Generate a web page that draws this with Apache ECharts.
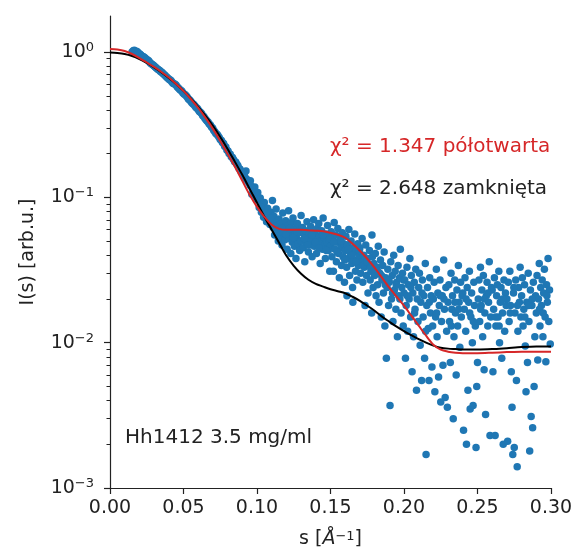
<!DOCTYPE html>
<html>
<head>
<meta charset="utf-8">
<script src="https://cdn.jsdelivr.net/npm/echarts@6/dist/echarts.min.js"></script>
<style>html,body{margin:0;padding:0;background:#fff}#c{width:576px;height:554px}</style>
</head>
<body>
<div id="c"></div>
<script>
// ---- data ----
const curveS = [0,0.005,0.01,0.015,0.02,0.025,0.03,0.035,0.04,0.045,0.05,0.055,0.06,0.065,0.07,0.075,0.08,0.085,0.09,0.095,0.1,0.105,0.11,0.115,0.12,0.125,0.13,0.135,0.14,0.145,0.15,0.155,0.16,0.165,0.17,0.175,0.18,0.185,0.19,0.195,0.2,0.205,0.21,0.215,0.22,0.225,0.23,0.235,0.24,0.25,0.26,0.27,0.28,0.29,0.3];
const redFit = [1.049,1.040,1.016,0.969,0.909,0.847,0.789,0.729,0.668,0.603,0.540,0.475,0.412,0.352,0.296,0.2444,0.1991,0.1621,0.1299,0.1040,0.0860,0.0735,0.0647,0.0607,0.0598,0.0598,0.0598,0.0593,0.0589,0.0584,0.0570,0.0553,0.0527,0.0479,0.0429,0.0378,0.0328,0.0280,0.0239,0.0207,0.01796,0.01533,0.01309,0.01117,0.00969,0.00895,0.00867,0.00853,0.00847,0.00847,0.00853,0.00861,0.00867,0.00867,0.00867];
const blackFit = [0.992,0.984,0.969,0.939,0.895,0.840,0.782,0.723,0.663,0.603,0.540,0.479,0.419,0.363,0.310,0.2604,0.2154,0.1754,0.1428,0.1144,0.0917,0.0735,0.0598,0.0487,0.0396,0.0338,0.0298,0.0271,0.0254,0.0243,0.0233,0.0226,0.0219,0.0207,0.0194,0.01796,0.0166,0.0151,0.01394,0.01288,0.0120,0.01126,0.01057,0.0100,0.00954,0.00924,0.00910,0.00903,0.00896,0.00896,0.00903,0.00917,0.00932,0.00940,0.00940];

const measured = [
[0.0150,1.00],[0.0165,1.03],[0.0180,1.01],[0.0195,0.975],[0.0210,0.955],[0.0225,0.93],[0.0240,0.905],[0.0255,0.88],[0.0270,0.85],[0.0285,0.825],[0.0300,0.80],[0.0315,0.775],[0.0330,0.755],[0.0345,0.73],[0.0360,0.71],[0.0375,0.69],[0.0390,0.665],[0.0405,0.645],[0.0420,0.625],[0.0435,0.605],[0.0450,0.59],[0.0465,0.565],[0.0480,0.545],[0.0495,0.525],[0.0510,0.51],[0.0525,0.49],[0.0540,0.47],[0.0555,0.45],[0.0570,0.435],[0.0585,0.415],[0.0600,0.40],[0.0615,0.385],[0.0630,0.365],[0.0645,0.35],[0.0660,0.335],[0.0675,0.32],[0.0690,0.305],[0.0705,0.29],[0.0720,0.275],[0.0735,0.265],[0.0750,0.25],[0.0765,0.238],[0.0780,0.225],[0.0795,0.212],[0.0810,0.2],[0.0825,0.19],[0.0840,0.182],[0.0855,0.175],[0.0870,0.165],[0.0885,0.156],[0.0900,0.148],[0.0915,0.14],[0.0925,0.152],[0.0930,0.133],[0.0945,0.126],[0.0955,0.13],[0.0960,0.119],[0.0965,0.105],[0.0975,0.112],[0.0985,0.118],[0.0990,0.106],[0.0995,0.097],
[0.0158,1.02],[0.0173,0.995],[0.0188,1.0],[0.0203,0.97],[0.0218,0.935],[0.0233,0.92],[0.0248,0.89],[0.0263,0.87],[0.0278,0.835],[0.0293,0.815],[0.0308,0.79],[0.0323,0.765],[0.0338,0.745],[0.0353,0.725],[0.0368,0.70],[0.0383,0.675],[0.0398,0.655],[0.0413,0.64],[0.0428,0.61],[0.0443,0.6],[0.0458,0.575],[0.0473,0.555],[0.0488,0.54],[0.0503,0.515],[0.0518,0.50],[0.0533,0.475],[0.0548,0.46],[0.0563,0.44],[0.0578,0.425],[0.0593,0.41],[0.0608,0.39],[0.0623,0.378],[0.0638,0.36],[0.0653,0.342],[0.0668,0.328],[0.0683,0.315],[0.0698,0.30],[0.0713,0.283],[0.0728,0.272],[0.0743,0.258],[0.0758,0.246],[0.0773,0.235],[0.0788,0.222],[0.0803,0.208],[0.0818,0.198],[0.0833,0.188],[0.0848,0.176],[0.0863,0.169],[0.0878,0.158],[0.0893,0.149],[0.0908,0.146],[0.0923,0.135],[0.0938,0.129],[0.0953,0.121],[0.0968,0.116],[0.0983,0.108],
[0.1005,0.108],[0.1010,0.096],[0.1015,0.085],[0.1022,0.099],[0.1030,0.079],[0.1037,0.089],[0.1045,0.073],[0.1050,0.092],[0.1058,0.082],[0.1065,0.068],[0.1072,0.084],[0.1080,0.076],[0.1088,0.065],[0.1095,0.079],[0.1100,0.071],
[0.1105,0.095],[0.1110,0.062],[0.1115,0.074],[0.1120,0.055],[0.1125,0.068],[0.1130,0.083],[0.1135,0.058],[0.1140,0.064],[0.1145,0.050],[0.1150,0.071],[0.1155,0.060],[0.1160,0.053],[0.1165,0.066],[0.1170,0.047],[0.1175,0.078],[0.1180,0.057],[0.1185,0.062],[0.1190,0.051],[0.1195,0.069],
[0.1200,0.055],[0.1205,0.044],[0.1210,0.064],[0.1215,0.081],[0.1220,0.052],[0.1225,0.058],[0.1230,0.041],[0.1235,0.067],[0.1240,0.049],[0.1245,0.072],[0.1250,0.055],[0.1255,0.046],[0.1260,0.061],[0.1265,0.038],[0.1270,0.052],[0.1275,0.066],[0.1280,0.048],[0.1285,0.057],[0.1290,0.043],[0.1295,0.060],
[0.1300,0.075],[0.1305,0.050],[0.1310,0.062],[0.1315,0.045],[0.1320,0.056],[0.1325,0.036],[0.1330,0.059],[0.1335,0.049],[0.1340,0.068],[0.1345,0.053],[0.1350,0.042],[0.1355,0.057],[0.1360,0.047],[0.1365,0.063],[0.1370,0.051],[0.1375,0.039],[0.1380,0.055],[0.1385,0.070],[0.1390,0.046],[0.1395,0.058],
[0.1400,0.052],[0.1405,0.041],[0.1410,0.061],[0.1415,0.048],[0.1420,0.066],[0.1425,0.054],[0.1430,0.035],[0.1435,0.050],[0.1440,0.059],[0.1445,0.044],[0.1450,0.072],[0.1455,0.053],[0.1460,0.047],[0.1465,0.038],[0.1470,0.056],[0.1475,0.049],[0.1480,0.064],[0.1485,0.043],[0.1490,0.051],[0.1495,0.031],
[0.1500,0.046],[0.1505,0.058],[0.1510,0.039],[0.1515,0.052],[0.1520,0.031],[0.1525,0.067],[0.1530,0.044],[0.1535,0.055],[0.1540,0.036],[0.1545,0.049],[0.1550,0.061],[0.1555,0.041],[0.1560,0.028],[0.1565,0.053],[0.1570,0.045],[0.1575,0.034],[0.1580,0.057],[0.1585,0.039],[0.1590,0.048],[0.1595,0.026],
[0.1600,0.043],[0.1605,0.054],[0.1610,0.033],[0.1612,0.021],[0.1615,0.047],[0.1620,0.038],[0.1625,0.060],[0.1630,0.029],[0.1635,0.041],[0.1640,0.050],[0.1645,0.035],[0.1650,0.024],[0.1652,0.019],[0.1655,0.045],[0.1660,0.037],[0.1665,0.056],[0.1670,0.031],[0.1675,0.042],[0.1680,0.027],[0.1685,0.048],[0.1690,0.034],[0.1695,0.039],
[0.1700,0.045],[0.1705,0.030],[0.1710,0.036],[0.1715,0.052],[0.1720,0.026],[0.1725,0.040],[0.1730,0.033],[0.1735,0.018],[0.1740,0.047],[0.1745,0.029],[0.1750,0.038],[0.1755,0.022],[0.1760,0.034],[0.1765,0.043],[0.1770,0.027],[0.1775,0.031],[0.1780,0.016],[0.1782,0.055],[0.1785,0.039],[0.1790,0.024],[0.1795,0.035],
[0.1800,0.029],[0.1805,0.041],[0.1810,0.021],[0.1815,0.033],[0.1820,0.025],[0.1825,0.046],[0.1830,0.019],[0.1835,0.030],[0.1840,0.037],[0.1845,0.015],[0.1850,0.027],[0.1855,0.034],[0.1860,0.022],[0.1865,0.042],[0.1870,0.013],[0.1875,0.028],[0.1880,0.0078],[0.1885,0.024],[0.1890,0.032],[0.1895,0.018],
[0.1900,0.026],[0.1905,0.0037],[0.1910,0.036],[0.1915,0.020],[0.1920,0.029],[0.1925,0.014],[0.1930,0.040],[0.1935,0.023],[0.1940,0.031],[0.1945,0.017],[0.1950,0.026],[0.1955,0.011],[0.1960,0.034],[0.1965,0.021],[0.1970,0.028],[0.1975,0.044],[0.1980,0.016],[0.1985,0.024],[0.1990,0.030],[0.1995,0.013],
[0.1027,0.086],[0.1062,0.077],[0.1092,0.072],[0.1122,0.063],[0.1147,0.058],[0.1172,0.061],[0.1197,0.056],[0.1222,0.061],[0.1247,0.053],[0.1272,0.058],[0.1297,0.050],[0.1322,0.052],[0.1347,0.047],[0.1372,0.055],[0.1397,0.049],[0.1422,0.045],[0.1447,0.055],[0.1472,0.043],[0.1497,0.052],[0.1522,0.049],[0.1547,0.042],[0.1572,0.050],[0.1597,0.037],[0.1622,0.044],[0.1647,0.040],[0.1672,0.036],[0.1697,0.043],[0.1722,0.034],[0.1747,0.036],[0.1772,0.033],[0.1797,0.030],[0.1822,0.031],[0.1847,0.029],[0.1872,0.025],[0.1897,0.027],[0.1922,0.022],[0.1947,0.025],[0.1972,0.020],[0.1997,0.027],
[0.2000,0.022],[0.2005,0.027],[0.2010,0.0078],[0.2015,0.018],[0.2020,0.033],[0.2025,0.012],[0.2030,0.025],[0.2035,0.020],[0.2040,0.038],[0.2045,0.015],[0.2050,0.029],[0.2055,0.0063],[0.2060,0.022],[0.2065,0.011],[0.2070,0.026],[0.2075,0.017],[0.2080,0.032],[0.2085,0.0047],[0.2090,0.020],[0.2095,0.014],
[0.2100,0.024],[0.2105,0.030],[0.2110,0.0096],[0.2115,0.019],[0.2120,0.0055],[0.2125,0.027],[0.2130,0.015],[0.2135,0.021],[0.2140,0.0078],[0.2145,0.035],[0.2150,0.0017],[0.2155,0.018],[0.2160,0.024],[0.2165,0.0125],[0.2170,0.0055],[0.2175,0.028],[0.2180,0.016],[0.2185,0.021],[0.2190,0.0068],[0.2195,0.013],
[0.2200,0.020],[0.2205,0.026],[0.2210,0.0046],[0.2215,0.015],[0.2220,0.032],[0.2225,0.011],[0.2230,0.022],[0.2235,0.0058],[0.2240,0.018],[0.2245,0.027],[0.2250,0.0039],[0.2255,0.014],[0.2260,0.021],[0.2265,0.0070],[0.2270,0.037],[0.2275,0.017],[0.2280,0.0042],[0.2285,0.024],[0.2290,0.012],[0.2295,0.0036],
[0.2300,0.019],[0.2305,0.025],[0.2310,0.014],[0.2315,0.0073],[0.2320,0.030],[0.2325,0.017],[0.2330,0.021],[0.2335,0.0030],[0.2340,0.011],[0.2345,0.027],[0.2350,0.016],[0.2355,0.0060],[0.2360,0.023],[0.2365,0.013],[0.2370,0.034],[0.2375,0.019],[0.2380,0.0093],[0.2385,0.026],[0.2390,0.015],[0.2395,0.021],
[0.2400,0.022],[0.2405,0.0025],[0.2410,0.017],[0.2415,0.028],[0.2420,0.012],[0.2425,0.0020],[0.2430,0.024],[0.2435,0.0047],[0.2440,0.019],[0.2445,0.031],[0.2450,0.0035],[0.2455,0.015],[0.2460,0.022],[0.2465,0.010],[0.2470,0.0037],[0.2475,0.026],[0.2480,0.018],[0.2485,0.013],[0.2490,0.0019],[0.2495,0.0050],
[0.2500,0.0073],[0.2505,0.020],[0.2510,0.027],[0.2515,0.014],[0.2520,0.033],[0.2525,0.018],[0.2530,0.023],[0.2535,0.011],[0.2540,0.029],[0.2545,0.0065],[0.2550,0.016],[0.2555,0.0032],[0.2560,0.021],[0.2565,0.026],[0.2570,0.013],[0.2575,0.019],[0.2580,0.036],[0.2585,0.0023],[0.2590,0.015],[0.2595,0.024],
[0.2600,0.023],[0.2605,0.0063],[0.2610,0.017],[0.2615,0.028],[0.2620,0.0023],[0.2625,0.013],[0.2630,0.021],[0.2635,0.025],[0.2640,0.015],[0.2645,0.031],[0.2650,0.010],[0.2655,0.019],[0.2660,0.024],[0.2665,0.0078],[0.2670,0.016],[0.2675,0.0020],[0.2680,0.027],[0.2685,0.012],[0.2690,0.022],[0.2695,0.018],
[0.2700,0.020],[0.2705,0.0021],[0.2710,0.026],[0.2715,0.014],[0.2720,0.031],[0.2725,0.018],[0.2730,0.0063],[0.2735,0.0036],[0.2740,0.0017],[0.2745,0.022],[0.2750,0.0019],[0.2755,0.016],[0.2760,0.027],[0.2765,0.0055],[0.2770,0.0014],[0.2775,0.012],[0.2780,0.024],[0.2785,0.019],[0.2790,0.033],[0.2795,0.015],
[0.2800,0.021],[0.2805,0.028],[0.2810,0.013],[0.2815,0.017],[0.2820,0.025],[0.2825,0.0095],[0.2830,0.0046],[0.2835,0.019],[0.2840,0.0073],[0.2845,0.030],[0.2850,0.014],[0.2855,0.0018],[0.2860,0.023],[0.2865,0.0031],[0.2870,0.018],[0.2875,0.0026],[0.2880,0.026],[0.2885,0.0050],[0.2890,0.011],[0.2895,0.021],
[0.2900,0.016],[0.2905,0.029],[0.2910,0.0076],[0.2915,0.020],[0.2920,0.035],[0.2925,0.013],[0.2930,0.024],[0.2935,0.018],[0.2940,0.027],[0.2945,0.011],[0.2950,0.022],[0.2955,0.032],[0.2960,0.015],[0.2965,0.0074],[0.2970,0.025],[0.2975,0.019],[0.2980,0.038],[0.2985,0.014],[0.2990,0.023],[0.2995,0.0098],
[0.2022,0.021],[0.2072,0.016],[0.2122,0.022],[0.2172,0.019],[0.2222,0.016],[0.2272,0.020],[0.2322,0.013],[0.2372,0.017],[0.2422,0.020],[0.2472,0.014],[0.2522,0.017],[0.2572,0.022],[0.2622,0.015],[0.2672,0.020],[0.2722,0.016],[0.2772,0.018],[0.2822,0.015],[0.2872,0.020],[0.2922,0.017],[0.2972,0.021],
[0.2047,0.024],[0.2147,0.012],[0.2247,0.021],[0.2347,0.019],[0.2447,0.016],[0.2547,0.020],[0.2647,0.013],[0.2747,0.024],[0.2847,0.018],[0.2947,0.016]
];

const yMajorTicks = [0.001, 0.01, 0.1, 1];
const yMajorExp = ['\u22123', '\u22122', '\u22121', '0'];
const yMinorTicks = [0.002,0.003,0.004,0.005,0.006,0.007,0.008,0.009,0.02,0.03,0.04,0.05,0.06,0.07,0.08,0.09,0.2,0.3,0.4,0.5,0.6,0.7,0.8,0.9];
const xTicks = [0, 0.05, 0.10, 0.15, 0.20, 0.25, 0.30];

const annRed = 'χ² = 1.347 półotwarta';
const annBlack = 'χ² = 2.648 zamknięta';
const annSample = 'Hh1412 3.5 mg/ml';

// ---- chart ----
const FONT = 'DejaVu Sans';
const AX = '#222';
const chart = echarts.init(document.getElementById('c'), null, {renderer: 'canvas'});
const yLog = {type: 'log', logBase: 10, min: 0.001, max: 1.769};

function pairs(xs, ys) { return xs.map((x, i) => [x, ys[i]]); }

const option = {
  animation: false,
  backgroundColor: '#fff',
  grid: {left: 110, right: 25, top: 16, bottom: 65, containLabel: false},
  xAxis: {
    type: 'value', min: 0, max: 0.3, interval: 0.05,
    axisLine: {show: true, lineStyle: {color: AX, width: 1.2}},
    axisTick: {show: true, inside: false, length: 6, lineStyle: {color: AX, width: 1.2}, customValues: xTicks},
    axisLabel: {color: AX, fontFamily: FONT, fontSize: 19, margin: 11, formatter: v => v.toFixed(2), customValues: xTicks},
    splitLine: {show: false},
    name: 's [{i|Å}{s|\u22121}]', nameLocation: 'middle', nameGap: 42,
    nameTextStyle: {color: AX, fontFamily: FONT, fontSize: 19,
      rich: {i: {fontStyle: 'italic', fontFamily: FONT, fontSize: 19, color: AX},
             s: {fontSize: 13, fontFamily: FONT, color: AX, verticalAlign: 'top', lineHeight: 12}}}
  },
  yAxis: [
    Object.assign({}, yLog, {
      position: 'left',
      axisLine: {show: true, lineStyle: {color: AX, width: 1.2}},
      axisTick: {show: true, inside: false, length: 6, lineStyle: {color: AX, width: 1.2}, customValues: yMajorTicks},
      axisLabel: {
        color: AX, fontFamily: FONT, fontSize: 19, margin: 16, customValues: yMajorTicks,
        formatter: v => { const k = yMajorTicks.findIndex(t => Math.abs(t - v) / t < 1e-6); return '{b|10}{s|' + yMajorExp[k] + '}'; },
        rich: {b: {fontFamily: FONT, fontSize: 19, color: AX, lineHeight: 22},
               s: {fontFamily: FONT, fontSize: 13, color: AX, verticalAlign: 'top', lineHeight: 12}}
      },
      splitLine: {show: false},
      name: 'I(s) [arb.u.]', nameLocation: 'middle', nameGap: 72, nameRotate: 90,
      nameTextStyle: {color: AX, fontFamily: FONT, fontSize: 19}
    }),
    Object.assign({}, yLog, {
      position: 'left',
      axisLine: {show: false},
      axisTick: {show: true, inside: false, length: 3.5, lineStyle: {color: AX, width: 1}, customValues: yMinorTicks},
      axisLabel: {show: false},
      splitLine: {show: false}
    })
  ],
  series: [
    {type: 'scatter', data: measured, yAxisIndex: 0, symbol: 'circle', symbolSize: 7.5,
     itemStyle: {color: '#1f77b4', opacity: 1}, z: 2},
    {type: 'line', data: pairs(curveS, blackFit), yAxisIndex: 0, showSymbol: false, smooth: 0.3,
     lineStyle: {color: '#000000', width: 2}, z: 3},
    {type: 'line', data: pairs(curveS, redFit), yAxisIndex: 0, showSymbol: false, smooth: 0.3,
     lineStyle: {color: '#d62728', width: 2}, z: 4}
  ],
  graphic: [
    {type: 'text', x: 330, y: 147, z: 10, style: {text: annRed, fill: '#d62728', font: '20px "DejaVu Sans"', verticalAlign: 'middle'}},
    {type: 'text', x: 330, y: 189, z: 10, style: {text: annBlack, fill: '#222', font: '20px "DejaVu Sans"', verticalAlign: 'middle'}},
    {type: 'text', x: 125, y: 438, z: 10, style: {text: annSample, fill: '#222', font: '20px "DejaVu Sans"', verticalAlign: 'middle'}}
  ]
};
chart.setOption(option);
</script>
</body>
</html>
